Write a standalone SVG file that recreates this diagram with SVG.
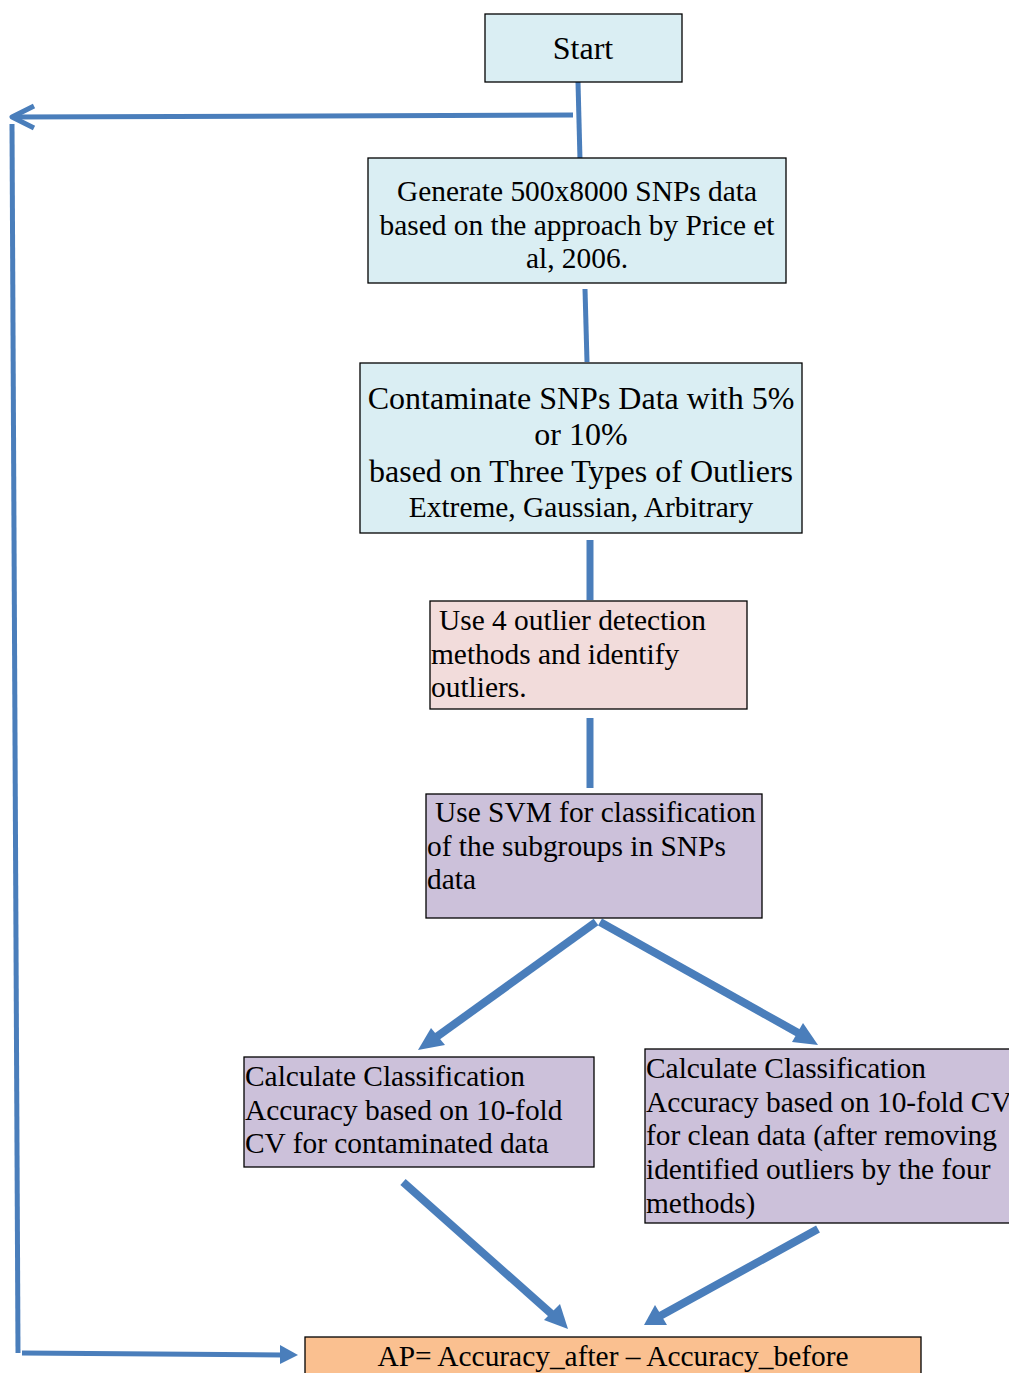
<svg xmlns="http://www.w3.org/2000/svg" width="1009" height="1373" viewBox="0 0 1009 1373">
<defs>
<style>
.box{stroke:#000;stroke-width:1.3}
.blue{fill:#daeef3}
.pink{fill:#f2dcdb}
.lav{fill:#ccc1da}
.orange{fill:#fac090}
text{font-family:"Liberation Serif","Times New Roman",serif;fill:#000;font-size:29.4px}
.c{text-anchor:middle}
.big{font-size:32px}
.conn{stroke:#4a7ebb;fill:none;stroke-linecap:butt}
.head{fill:#4a7ebb}
</style>
</defs>
<g id="connectors">
<line class="conn" x1="578" y1="82" x2="580" y2="160" stroke-width="5"/>
<line class="conn" x1="573" y1="115" x2="14" y2="117" stroke-width="5"/>
<polyline class="conn" points="34,106 12,117 34,128" stroke-width="5" stroke-linecap="round" stroke-linejoin="round"/>
<line class="conn" x1="12" y1="124" x2="18" y2="1353" stroke-width="5"/>
<line class="conn" x1="22" y1="1353" x2="282" y2="1355" stroke-width="5"/>
<polygon class="head" points="280,1345 298,1355 280,1364"/>
<line class="conn" x1="585" y1="289" x2="587" y2="362" stroke-width="5"/>
<line class="conn" x1="590" y1="540" x2="590" y2="600" stroke-width="7"/>
<line class="conn" x1="590" y1="718" x2="590" y2="788" stroke-width="7"/>
<line class="conn" x1="596" y1="922" x2="435" y2="1038" stroke-width="8"/>
<polygon class="head" points="418,1050 431,1028 445,1045"/>
<line class="conn" x1="600" y1="922" x2="800" y2="1034" stroke-width="8"/>
<polygon class="head" points="818,1045 803,1023 792,1042"/>
<line class="conn" x1="403" y1="1182" x2="555" y2="1317" stroke-width="8"/>
<polygon class="head" points="568,1329 544,1320 560,1304"/>
<line class="conn" x1="818" y1="1229" x2="660" y2="1316" stroke-width="8"/>
<polygon class="head" points="644,1325 655,1305 667,1325"/>
</g>
<g id="start">
<rect class="box blue" x="485" y="14" width="197" height="68"/>
<text class="c big" x="583" y="59">Start</text>
</g>
<g id="generate">
<rect class="box blue" x="368" y="158" width="418" height="125"/>
<text class="c" x="577" y="201">Generate 500x8000 SNPs data</text>
<text class="c" x="577" y="235">based on the approach by Price et</text>
<text class="c" x="577" y="268">al, 2006.</text>
</g>
<g id="contaminate">
<rect class="box blue" x="360" y="363" width="442" height="170"/>
<text class="c big" x="581" y="409">Contaminate SNPs Data with 5%</text>
<text class="c big" x="581" y="445">or 10%</text>
<text class="c big" x="581" y="482">based on Three Types of Outliers</text>
<text class="c" x="581" y="517">Extreme, Gaussian, Arbitrary</text>
</g>
<g id="detect">
<rect class="box pink" x="430" y="601" width="317" height="108"/>
<text x="439" y="630">Use 4 outlier detection</text>
<text x="431" y="664">methods and identify</text>
<text x="431" y="697">outliers.</text>
</g>
<g id="svm">
<rect class="box lav" x="426" y="794" width="336" height="124"/>
<text x="435" y="822">Use SVM for classification</text>
<text x="427" y="856">of the subgroups in SNPs</text>
<text x="427" y="889">data</text>
</g>
<g id="contaminated">
<rect class="box lav" x="244" y="1057" width="350" height="110"/>
<text x="245" y="1086">Calculate Classification</text>
<text x="245" y="1120">Accuracy based on 10-fold</text>
<text x="245" y="1153">CV for contaminated data</text>
</g>
<g id="clean">
<rect class="box lav" x="645" y="1049" width="370" height="174"/>
<text x="646" y="1078">Calculate Classification</text>
<text x="646" y="1112">Accuracy based on 10-fold CV</text>
<text x="646" y="1145">for clean data (after removing</text>
<text x="646" y="1179">identified outliers by the four</text>
<text x="646" y="1213">methods)</text>
</g>
<g id="ap">
<rect class="box orange" x="305" y="1337" width="616" height="50"/>
<text class="c" x="613" y="1366">AP= Accuracy_after – Accuracy_before</text>
</g>
</svg>
